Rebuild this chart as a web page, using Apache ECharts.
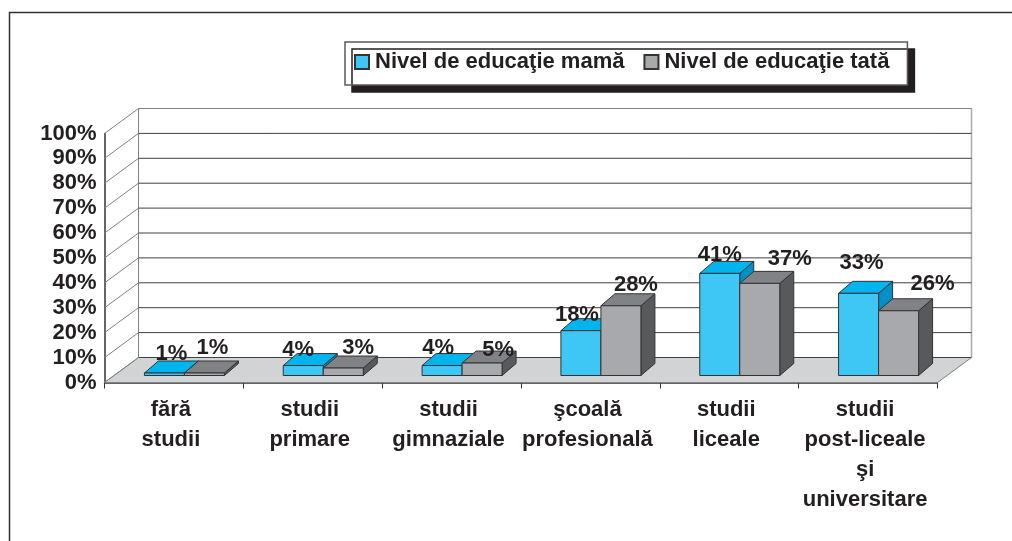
<!DOCTYPE html>
<html>
<head>
<meta charset="utf-8">
<style>html,body{margin:0;padding:0;background:#fff}#c{width:1012px;height:541px}</style>
<script src="https://cdn.jsdelivr.net/npm/echarts@6/dist/echarts.min.js"></script>
</head>
<body>
<div id="c"></div>
<script>
const categories = ["fără\nstudii", "studii\nprimare", "studii\ngimnaziale", "şcoală\nprofesională", "studii\nliceale", "studii\npost-liceale\nşi\nuniversitare"];
const seriesNames = ["Nivel de educaţie mamă", "Nivel de educaţie tată"];
const mama = [1, 4, 4, 18, 41, 33];
const tata = [1, 3, 5, 28, 37, 26];
const yTicks = [0, 10, 20, 30, 40, 50, 60, 70, 80, 90, 100];

// Layout and style constants (not data)
const FONT = '"Liberation Sans", Arial, sans-serif';
const INK = '#231F20';
const WALL = [34, -25];       // front plane -> back wall
const BASE = [10.5, -7];      // front plane -> front face of bars
const DEPTH = [14, -12];      // bar depth
const BAR_W = 40;
const mamaNudge = [[7,-19],[-5,-16],[-4,-18],[-4,-16],[0,-18],[3,-30]];
const tataNudge = [[8,-25],[15,-20],[16,-13],[15,-21],[30,-24],[34,-27]];
const blue = {front:'#3EC7F4', top:'#00B5EE', side:'#0090C8'};
const grey = {front:'#A7A9AC', top:'#808285', side:'#58595B'};

function face(pts, fill) {
  return {type:'polygon', shape:{points:pts}, style:{fill:fill, stroke:'#333', lineWidth:1}};
}
function barRenderer(pal, side, nudge) {
  return function (params, api) {
    const i = api.value(0), v = api.value(1);
    const c0 = api.coord([i, 0]), c1 = api.coord([i, v]);
    const x0 = c0[0] + BASE[0] + (side < 0 ? -BAR_W : 0);
    const x1 = x0 + BAR_W;
    const yb = c0[1] + BASE[1], yt = c1[1] + BASE[1];
    const dx = DEPTH[0], dy = DEPTH[1];
    return {type:'group', children:[
      face([[x1,yb],[x1+dx,yb+dy],[x1+dx,yt+dy],[x1,yt]], pal.side),
      face([[x0,yt],[x1,yt],[x1+dx,yt+dy],[x0+dx,yt+dy]], pal.top),
      face([[x0,yb],[x1,yb],[x1,yt],[x0,yt]], pal.front),
      {type:'text', z2:100, style:{
        text: v + '%', x:(x0+x1)/2 + nudge[i][0], y: yt + nudge[i][1],
        align:'center', verticalAlign:'middle',
        font:'bold 22px ' + FONT, fill:INK
      }}
    ]};
  };
}
function wallRenderer(params, api) {
  const v = api.value(0);
  const half = api.size([1, 0])[0] / 2;
  const L = api.coord([0, v]); L[0] -= half;
  const R = api.coord([categories.length - 1, v]); R[0] += half;
  const line = {type:'polyline', shape:{points:[[L[0],L[1]],[L[0]+WALL[0],L[1]+WALL[1]]]}, style:{fill:null, stroke:'#808285', lineWidth:1}};
  const back = {type:'line', shape:{x1:L[0]+WALL[0],y1:L[1]+WALL[1],x2:R[0]+WALL[0],y2:R[1]+WALL[1]}, style:{stroke: v === 100 ? '#808285' : '#414042', lineWidth:1}};
  const kids = [line, back];
  if (v === 0) {
    const top = api.coord([0, 100])[1] + WALL[1];
    kids.unshift(face([[L[0],L[1]],[L[0]+WALL[0],L[1]+WALL[1]],[R[0]+WALL[0],R[1]+WALL[1]],[R[0],R[1]]], '#D1D3D4'));
    kids[0].style.stroke = '#808285';
    kids.push({type:'line', shape:{x1:L[0]+WALL[0],y1:L[1]+WALL[1],x2:L[0]+WALL[0],y2:top}, style:{stroke:'#808285', lineWidth:1}});
    kids.push({type:'line', shape:{x1:R[0]+WALL[0],y1:R[1]+WALL[1],x2:R[0]+WALL[0],y2:top}, style:{stroke:'#A7A9AC', lineWidth:1.5}});
  }
  return {type:'group', children:kids};
}

const chart = echarts.init(document.getElementById('c'), null, {renderer:'canvas'});
chart.setOption({
  animation:false,
  backgroundColor:'#fff',
  textStyle:{fontFamily:FONT},
  graphic:[{type:'polyline', z:0, silent:true, shape:{points:[[9.5,541],[9.5,12.5],[1012,12.5]]}, style:{fill:null, stroke:'#333', lineWidth:1.5}}],
  legend:{
    data:seriesNames, left:345, top:42, orient:'horizontal', icon:'rect',
    itemWidth:14, itemHeight:14, itemGap:19,
    padding:[9,18,12,9],
    backgroundColor:'#fff', borderColor:'#58595B', borderWidth:1.5,
    shadowColor:'#231F20', shadowBlur:0, shadowOffsetX:7, shadowOffsetY:7,
    textStyle:{fontFamily:FONT, fontWeight:'bold', fontSize:22, color:INK, padding:[0,0,0,1]}
  },
  grid:{left:104.5, top:133.5, width:833, height:249, containLabel:false},
  xAxis:{
    type:'category', data:categories, boundaryGap:true,
    axisLine:{lineStyle:{color:'#333', width:1.5}},
    axisTick:{show:true, length:6, alignWithLabel:false, interval:0, lineStyle:{color:'#333', width:1}},
    splitLine:{show:false},
    axisLabel:{interval:0, margin:12, fontFamily:FONT, fontWeight:'bold', fontSize:22, color:INK, lineHeight:30, padding:[0,6,0,0]}
  },
  yAxis:{
    type:'value', min:0, max:100, interval:10,
    axisLine:{show:true, lineStyle:{color:'#333', width:1.5}},
    axisTick:{show:false},
    splitLine:{show:false},
    axisLabel:{margin:8, formatter:'{value}%', fontFamily:FONT, fontWeight:'bold', fontSize:22, color:INK, padding:[5,0,0,0]}
  },
  series:[
    {type:'custom', name:'perete', silent:true, clip:false, z:1, data:yTicks.map(v=>[v]), encode:{y:0}, renderItem:wallRenderer},
    {type:'custom', name:seriesNames[0], silent:true, clip:false, z:2, itemStyle:{color:blue.front, borderColor:'#333', borderWidth:1},
      data:mama.map((v,i)=>[i,v]), encode:{x:0,y:1}, renderItem:barRenderer(blue,-1,mamaNudge)},
    {type:'custom', name:seriesNames[1], silent:true, clip:false, z:2, itemStyle:{color:grey.front, borderColor:'#333', borderWidth:1},
      data:tata.map((v,i)=>[i,v]), encode:{x:0,y:1}, renderItem:barRenderer(grey,1,tataNudge)}
  ]
});
</script>
</body>
</html>
